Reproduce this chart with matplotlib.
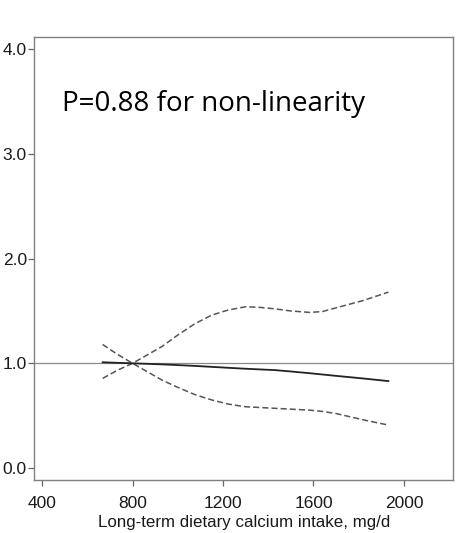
import matplotlib.pyplot as plt

# values (intake mg/d vs ratio)
intake = [668, 730, 800, 865, 930, 1000, 1077, 1150, 1224, 1300, 1360, 1430,
          1500, 1585, 1640, 1700, 1820, 1931]
ratio  = [1.01, 1.005, 1.0, 0.995, 0.99, 0.983, 0.975, 0.966, 0.957, 0.948, 0.942,
          0.935, 0.922, 0.905, 0.893, 0.88, 0.855, 0.83]
upper  = [0.856, 0.93, 1.0, 1.08, 1.16, 1.27, 1.38, 1.46, 1.51, 1.54, 1.535, 1.52,
          1.50, 1.486, 1.495, 1.53, 1.60, 1.68]
lower  = [1.18, 1.09, 1.0, 0.92, 0.84, 0.77, 0.70, 0.65, 0.61, 0.585, 0.578, 0.57,
          0.562, 0.552, 0.54, 0.52, 0.46, 0.41]

xticks = [400, 800, 1200, 1600, 2000]
yticks = [0.0, 1.0, 2.0, 3.0, 4.0]

plt.rcParams['font.family'] = ['Liberation Sans', 'DejaVu Sans']

fig = plt.figure(figsize=(4.61, 5.33), dpi=100)
ax = fig.add_axes([0.0738, 0.0994, 0.9095, 0.8317])

ax.axhline(1.0, color='#8a8a8a', lw=0.9, zorder=1)
ax.plot(intake, ratio, color='#222222', lw=1.3, zorder=3)
ax.plot(intake, upper, color='#555555', lw=1.1, ls=(0, (4, 2)), zorder=2)
ax.plot(intake, lower, color='#555555', lw=1.1, ls=(0, (4, 2)), zorder=2)

ax.text(488, 3.41, 'P=0.88 for non-linearity', fontsize=20,
        family=['Open Sans', 'DejaVu Sans'], color='black', va='baseline')

ax.set_xlim(364.6, 2218)
ax.set_ylim(-0.115, 4.12)
ax.set_xticks(xticks)
ax.set_yticks(yticks)
ax.set_yticklabels([f'{v:.1f}' for v in yticks])
ax.tick_params(axis='both', labelsize=12.5, length=4, width=0.9,
               color='#666666', labelcolor='#1a1a1a')
ax.tick_params(axis='y', pad=1.2)
ax.tick_params(axis='x', pad=7.5)
ax.set_xlabel('Long-term dietary calcium intake, mg/d', fontsize=12.2,
              color='#1a1a1a', labelpad=3)
for s in ax.spines.values():
    s.set_color('#808080')
    s.set_linewidth(1.0)

fig.savefig('out.png', dpi=100)
